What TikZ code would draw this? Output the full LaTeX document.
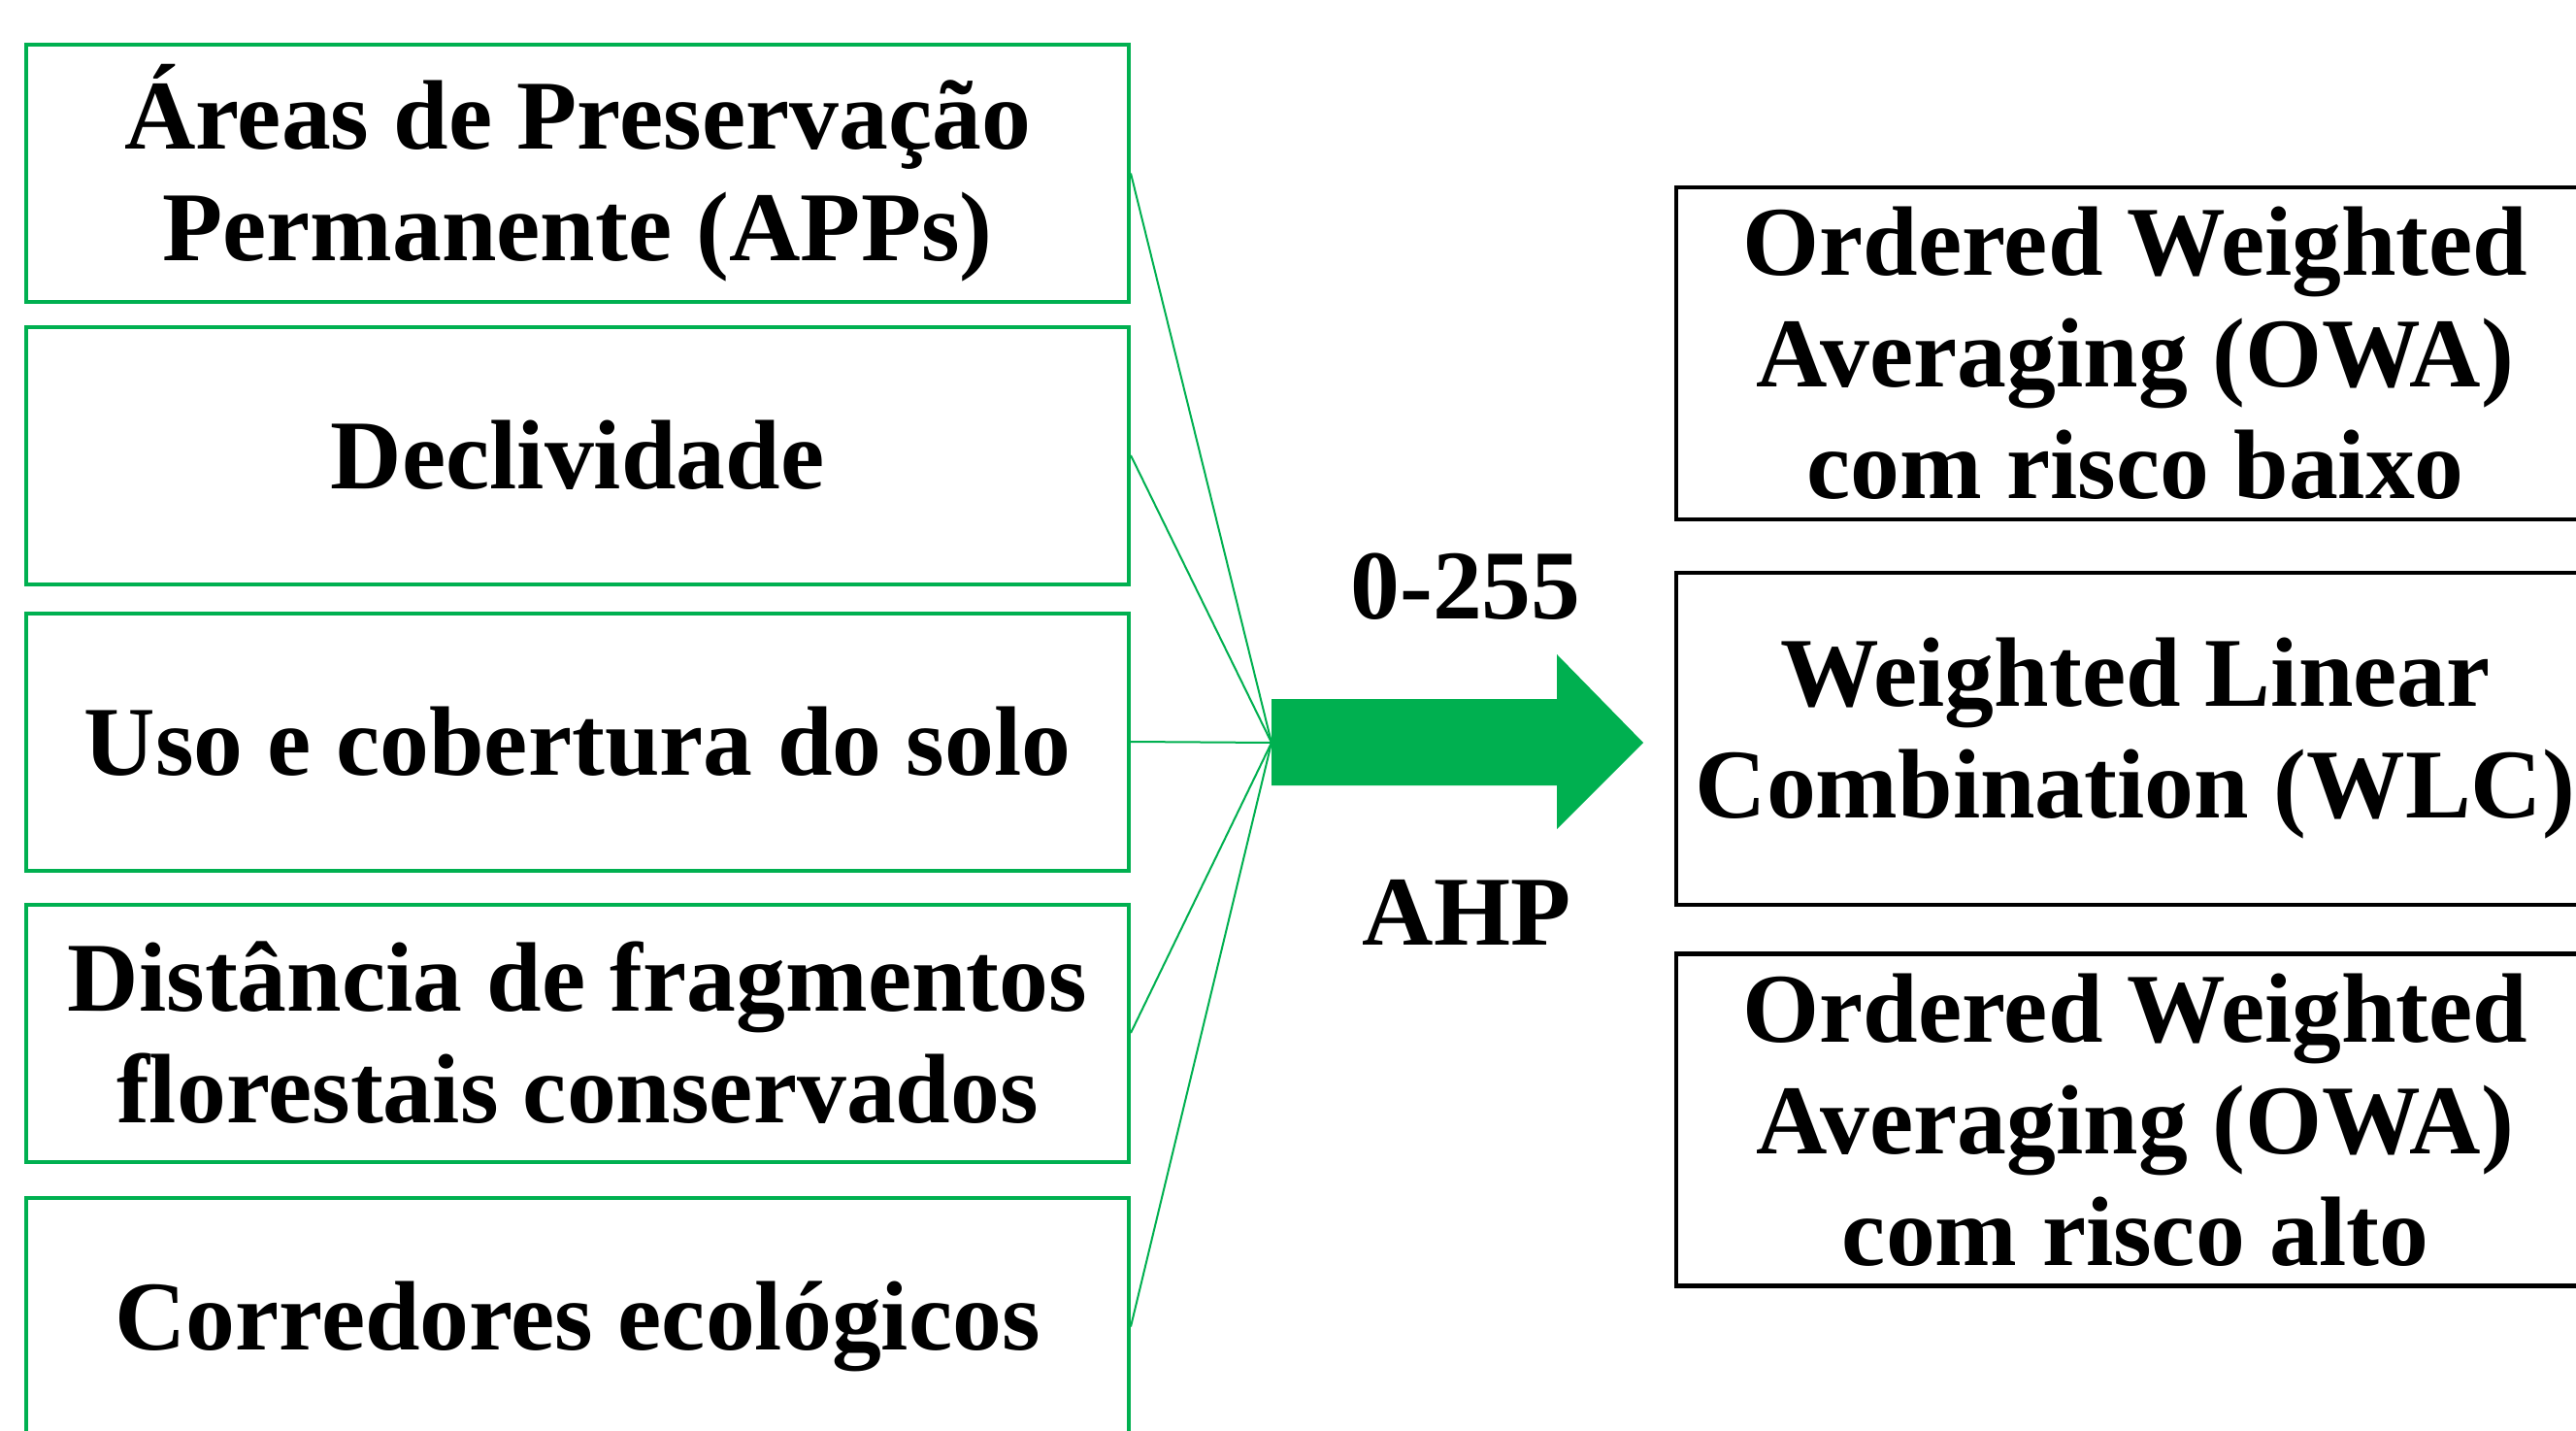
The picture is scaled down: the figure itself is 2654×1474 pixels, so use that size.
\documentclass[tikz,border=0pt]{standalone}
\usepackage{fontspec}
\setmainfont{Liberation Serif}
\definecolor{appgreen}{HTML}{00B050}
\newcommand\boxfont{\fontsize{30.5}{34.5}\selectfont\bfseries}
\begin{document}
\begin{tikzpicture}[x=0.3pt,y=-0.3pt,
  lbox/.style={draw=appgreen, line width=1.2pt, minimum width=340.8pt, minimum height=79.5pt, inner sep=0pt, align=center, font=\boxfont},
  rbox/.style={draw=black, line width=1.3pt, minimum width=283.8pt, minimum height=102.6pt, inner sep=0pt, align=center, font=\boxfont},
  fan/.style={draw=appgreen, line width=0.6pt},
  lbl/.style={font=\boxfont, inner sep=0pt}]
\useasboundingbox[fill=white] (0,0) rectangle (2654,1474);
\clip (0,0) rectangle (2654,1474);
% left boxes
\node[lbox] (b1) at (595,178.5) {Áreas de Preservação\\Permanente (APPs)};
\node[lbox] (b2) at (595,469) {Declividade};
\node[lbox] (b3) at (595,764) {Uso e cobertura do solo};
\node[lbox] (b4) at (595,1064) {Distância de fragmentos\\florestais conservados};
\node[lbox] (b5) at (595,1366.5) {Corredores ecológicos};
% right boxes
\node[rbox] (r1) at (2200,364) {Ordered Weighted\\Averaging (OWA)\\com risco baixo};
\node[rbox] (r2) at (2200,761) {Weighted Linear\\Combination (WLC)};
\node[rbox] (r3) at (2200,1153.5) {Ordered Weighted\\Averaging (OWA)\\com risco alto};
% hub and fan
\coordinate (hub) at (1310,765);
\foreach \b in {b1,b2,b3,b4,b5} \draw[fan] (\b.east) -- (hub);
% big arrow
\fill[appgreen] (hub) ++(0,-45) -- ++(294,0) -- ++(0,-46) -- (1693,765) -- (1604,854) -- ++(0,-45) -- (1310,809) -- cycle;
% labels
\node[lbl] (t1) at (1510,604) {0-255};
\node[lbl] (t2) at (1511,940) {AHP};
\end{tikzpicture}
\end{document}
